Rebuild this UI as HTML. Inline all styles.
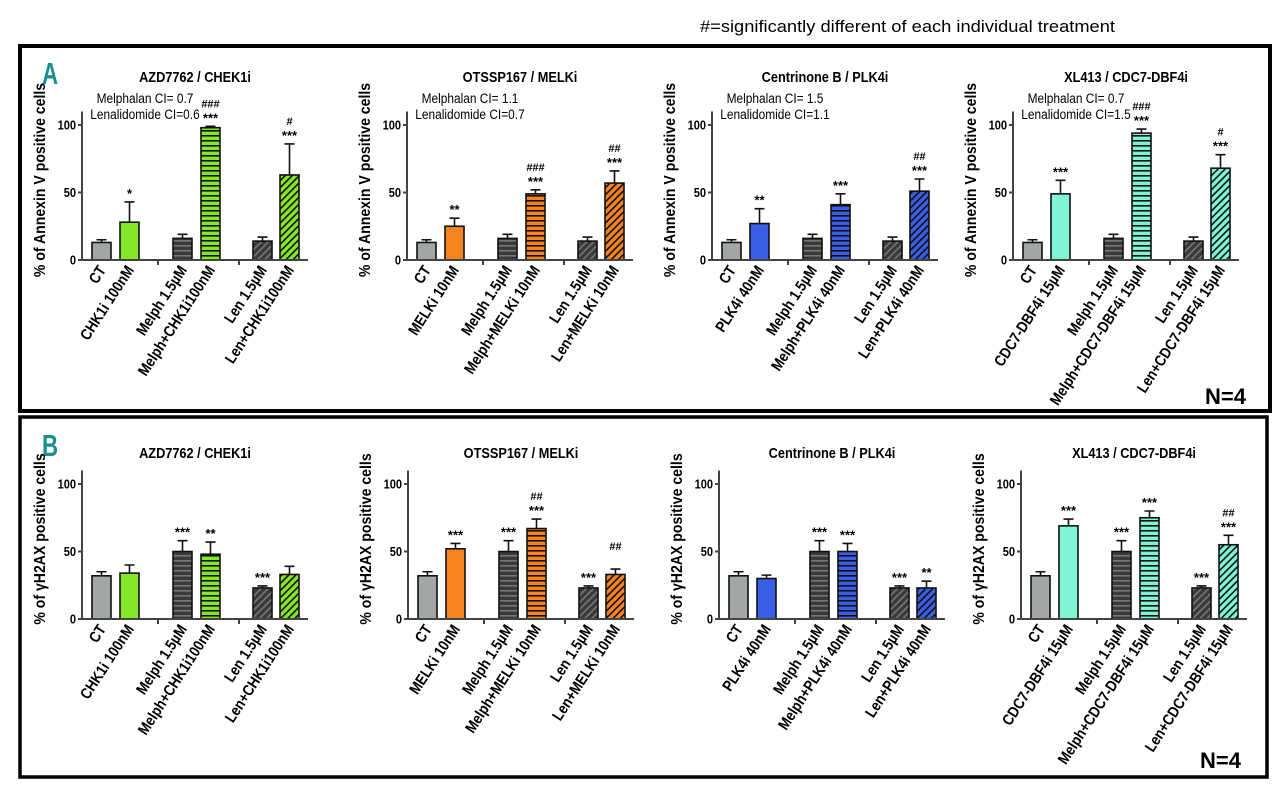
<!DOCTYPE html>
<html><head><meta charset="utf-8"><style>
html,body{margin:0;padding:0;background:#fff;}
svg{display:block;font-family:"Liberation Sans",sans-serif;}
</style></head><body>
<svg id="fig" width="1280" height="789" viewBox="0 0 1280 789" xmlns="http://www.w3.org/2000/svg">
<defs id="defs"></defs>
<text x="700" y="32" font-size="17" textLength="415" lengthAdjust="spacingAndGlyphs">#=significantly different of each individual treatment</text>
<rect x="20" y="46" width="1250" height="365" fill="none" stroke="#000" stroke-width="4"/>
<rect x="20" y="417" width="1247" height="360" fill="none" stroke="#000" stroke-width="3.5"/>
<text x="42" y="84" font-size="31" font-weight="bold" fill="#1a8f8f" transform="translate(42 84) scale(0.72 1) translate(-42 -84)">A</text>
<text x="42" y="456" font-size="31" font-weight="bold" fill="#1a8f8f" transform="translate(42 456) scale(0.72 1) translate(-42 -456)">B</text>
<text x="1205" y="404" font-size="22" font-weight="bold">N=4</text>
<text x="1200" y="768" font-size="22" font-weight="bold">N=4</text>
<g id="charts"></g>
</svg>
<script>
// ---- data ----
const titles = ["AZD7762 / CHEK1i","OTSSP167 / MELKi","Centrinone B / PLK4i","XL413 / CDC7-DBF4i"];
const drugLabels = [
 ["CT","CHK1i 100nM","Melph 1.5\u00b5M","Melph+CHK1i100nM","Len 1.5\u00b5M","Len+CHK1i100nM"],
 ["CT","MELKi 10nM","Melph 1.5\u00b5M","Melph+MELKi 10nM","Len 1.5\u00b5M","Len+MELKi 10nM"],
 ["CT","PLK4i 40nM","Melph 1.5\u00b5M","Melph+PLK4i 40nM","Len 1.5\u00b5M","Len+PLK4i 40nM"],
 ["CT","CDC7-DBF4i 15\u00b5M","Melph 1.5\u00b5M","Melph+CDC7-DBF4i 15\u00b5M","Len 1.5\u00b5M","Len+CDC7-DBF4i 15\u00b5M"]
];
const colors = ["#86e62a","#f7841f","#3a5ee6","#7ff5d6"];
const yTicks = [0,50,100];
const annexinValues = [[13,28,16,98,14,63],[13,25,16,49,14,57],[13,27,16,41,14,51],[13,49,16,94,14,68]];
const annexinErrors = [[2,15,3,1,3,23],[2,6,3,3,3,9],[2,11,3,8,3,9],[2,10,3,3,3,10]];
const annexinStars = [["","*","","***","","***"],["","**","","***","","***"],["","**","","***","","***"],["","***","","***","","***"]];
const annexinHash = [["","","","###","","#"],["","","","###","","##"],["","","","","","##"],["","","","###","","#"]];
const h2axValues = [[32,34,50,48,23,33],[32,52,50,67,23,33],[32,30,50,50,23,23],[32,69,50,75,23,55]];
const h2axErrors = [[3,6,8,9,1.5,6],[3,4,8,7,1.5,4],[3,2.5,8,6,1.5,5],[3,5,8,5,1.5,7]];
const h2axStars = [["","","***","**","***",""],["","***","***","***","***",""],["","","***","***","***","**"],["","***","***","***","***","***"]];
const h2axHash = [["","","","","",""],["","","","##","","##"],["","","","","",""],["","","","","","##"]];
const ciMelph = ["Melphalan CI= 0.7","Melphalan CI= 1.1","Melphalan CI= 1.5","Melphalan CI= 0.7"];
const ciLen = ["Lenalidomide CI=0.6","Lenalidomide CI=0.7","Lenalidomide CI=1.1","Lenalidomide CI=1.5"];

// ---- layout ----
const NS="http://www.w3.org/2000/svg";
const ax0A=[82,407,712,1013], ax0B=[82,408,719,1021];
const barOff=[10,38,91,119,171,198], barW=19, axLen=226;
const defs=document.getElementById('defs'), root=document.getElementById('charts');
function mk(tag,attrs,parent){const e=document.createElementNS(NS,tag);for(const k in attrs)e.setAttribute(k,attrs[k]);(parent||root).appendChild(e);return e;}
function pat(id,bg,line,type){
  const p=mk('pattern',{id:id,width:5,height:5,patternUnits:'userSpaceOnUse'},defs);
  if(type==='d') p.setAttribute('patternTransform','rotate(45)');
  mk('rect',{width:5,height:5,fill:bg},p);
  mk('rect',{x:0,y:0,width:type==='d'?1.6:5,height:type==='d'?5:1.6,fill:line},p);
}
pat('darkH','#3a3a3a','#777','h');pat('darkD','#3a3a3a','#777','d');
colors.forEach((c,i)=>{pat('h'+i,c,'#111','h');pat('d'+i,c,'#111','d');});

function chart(ci,x0,y0,vals,errs,stars,hashes,yTitle,showCI,titleY){
  const g=mk('g',{});
  
  
  const sc=1.35; const Y=v=>y0-v*sc; const X=i=>x0+barOff[i];
  const t=mk('text',{x:0,y:0,'font-size':15,'font-weight':'bold','text-anchor':'middle',transform:`translate(${x0+113} ${titleY}) scale(0.85 1)`},g);t.textContent=titles[ci];
  
  const yt=mk('text',{x:0,y:0,'font-size':16,'font-weight':'bold','text-anchor':'middle',transform:`translate(${x0-37} ${y0-80}) rotate(-90) scale(0.88 1)`},g);yt.textContent=yTitle;
  
  if(showCI){
    const c1=mk('text',{x:0,y:0,'font-size':14,'text-anchor':'middle',transform:`translate(${x0+63} ${y0-157}) scale(0.85 1)`},g);c1.textContent=ciMelph[ci];
    
    const c2=mk('text',{x:0,y:0,'font-size':14,'text-anchor':'middle',transform:`translate(${x0+63} ${y0-141}) scale(0.85 1)`},g);c2.textContent=ciLen[ci];
    
  }
  vals.forEach((v,i)=>{
    let fill = i===0?'#a2a6a6': i===1?colors[ci]: i===2?'url(#darkH)': i===3?`url(#h${ci})`: i===4?'url(#darkD)':`url(#d${ci})`;
    const e=errs[i], top=Y(v+e), cx=X(i)+barW/2;
    const eb=mk('path',{d:`M${cx} ${Y(v)}V${top}M${cx-5} ${top}H${cx+5}`,stroke:'#111','stroke-width':1.6,fill:'none'},g);
    
    const r=mk('rect',{x:X(i),y:Y(v),width:barW,height:v*sc,fill:fill,stroke:'#111','stroke-width':1.6},g);
    
    if(stars[i]){const s=mk('text',{x:cx,y:top-4,'font-size':13,'font-weight':'bold','text-anchor':'middle'},g);s.textContent=stars[i];
      }
    if(hashes[i]){const s=mk('text',{x:cx,y:top-19,'font-size':11,'font-weight':'bold','text-anchor':'middle'},g);s.textContent=hashes[i];
      }
    const l=mk('text',{x:0,y:0,'font-size':15.5,'font-weight':'bold','text-anchor':'end',transform:`translate(${cx+5} ${y0+10}) rotate(-57) scale(0.86 1)`},g);l.textContent=drugLabels[ci][i];
    
  });
  mk('path',{d:`M${x0} ${Y(110)}V${y0}H${x0+axLen}M${x0+76} ${y0}v5M${x0+157} ${y0}v5`,stroke:'#444','stroke-width':2,fill:'none'},g);
  yTicks.forEach(v=>{
    mk('path',{d:`M${x0-4} ${Y(v)}H${x0}`,stroke:'#444','stroke-width':2},g);
    const tl=mk('text',{x:0,y:0,'font-size':13,'font-weight':'bold','text-anchor':'end',transform:`translate(${x0-6} ${Y(v)+4.5}) scale(0.85 1)`},g);tl.textContent=v;
    
  });
}
for(let i=0;i<4;i++){
  chart(i,ax0A[i],260,annexinValues[i],annexinErrors[i],annexinStars[i],annexinHash[i],'% of Annexin V positive cells',true,82);
  chart(i,ax0B[i],619,h2axValues[i],h2axErrors[i],h2axStars[i],h2axHash[i],'% of \u03b3H2AX positive cells',false,458);
}
</script>
</body></html>
